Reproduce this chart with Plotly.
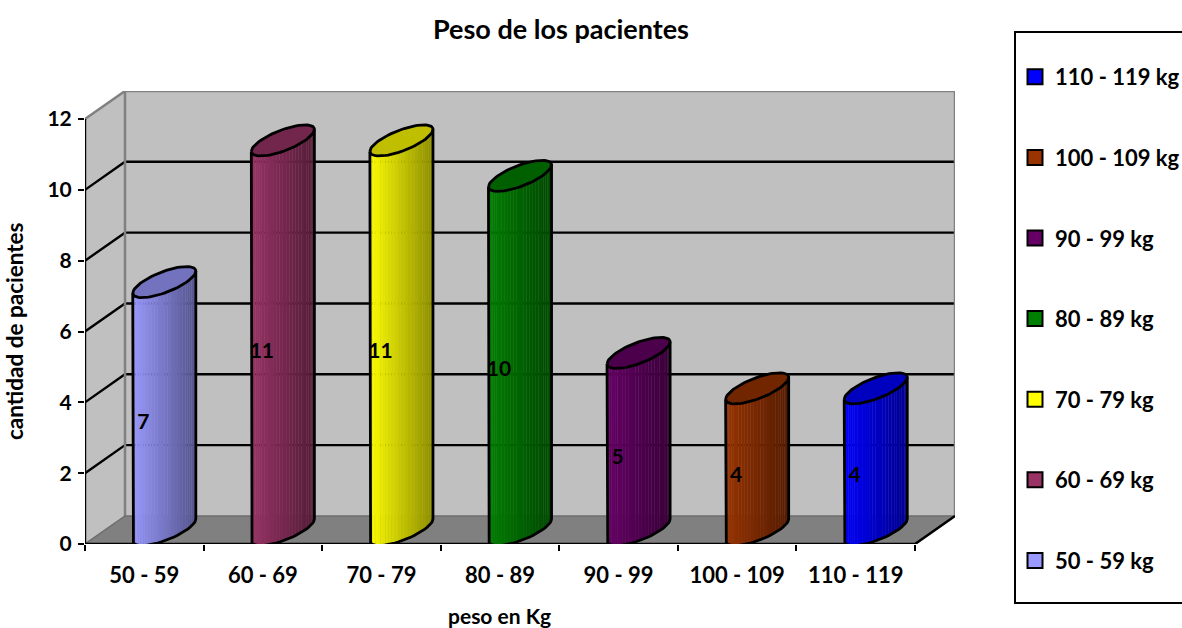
import math
import plotly.graph_objects as go

# ---- data ----
categories = ["50 - 59", "60 - 69", "70 - 79", "80 - 89", "90 - 99", "100 - 109", "110 - 119"]
series_names = ["50 - 59 kg", "60 - 69 kg", "70 - 79 kg", "80 - 89 kg", "90 - 99 kg", "100 - 109 kg", "110 - 119 kg"]
values = [7, 11, 11, 10, 5, 4, 4]
colors = ["#9999FF", "#993366", "#FFFF00", "#008000", "#660066", "#993300", "#0000FF"]
y_ticks = [0, 2, 4, 6, 8, 10, 12]
grid_levels = [2, 4, 6, 8, 10]

FONT = "Lato"
# ---- projection, in axis units ----
PX_X = 830 / 7          # pixels per category
PX_Y = 424 / 12         # pixels per unit of value
DX = 40 / PX_X          # oblique depth of the box
DY = 28 / PX_Y
XMIN, XMAX = -0.5, 6.5
TOP = 12
A = 22.3 / PX_X         # ellipse axes of the cylinder section
B = 22.3 / PX_X
C = 15.5 / PX_Y
N_STRIPS = 30
LABEL_SHIFT_X = 1 / PX_X
LABEL_SHIFT_Y = 3.5 / PX_Y

fig = go.Figure()


def poly(xs, ys, fill=None, line=None, width=0):
    fig.add_trace(go.Scatter(
        x=xs, y=ys, mode="lines", hoverinfo="skip", showlegend=False,
        fill="toself" if fill else "none", fillcolor=fill,
        line=dict(color=line or "rgba(0,0,0,0)", width=width),
        cliponaxis=False,
    ))


# walls and floor
poly([XMIN, XMIN + DX, XMIN + DX, XMIN], [0, DY, TOP + DY, TOP], fill="#C0C0C0")
poly([XMIN + DX, XMAX + DX, XMAX + DX, XMIN + DX], [DY, DY, TOP + DY, TOP + DY], fill="#C0C0C0")
poly([XMIN, XMAX, XMAX + DX, XMIN + DX], [0, 0, DY, DY], fill="#808080")
for lv in grid_levels:
    poly([XMIN, XMIN + DX, XMAX + DX], [lv, lv + DY, lv + DY], line="#000000", width=2.4)
# wall borders
poly([XMIN, XMIN + DX, XMAX + DX, XMAX + DX], [TOP, TOP + DY, TOP + DY, DY], line="#808080", width=2.5)
poly([XMIN + DX, XMIN + DX], [DY, TOP + DY], line="#808080", width=2.5)
poly([XMIN, XMIN + DX, XMAX + DX], [0, DY, DY], line="#6E6E6E", width=1.5)
# axis lines
poly([XMIN, XMIN], [0, TOP], line="#000000", width=2.4)
poly([XMIN, XMAX, XMAX + DX], [0, 0, DY], line="#000000", width=2.6)


def shade(col, f, alpha=1.0):
    r, g, b = int(col[1:3], 16), int(col[3:5], 16), int(col[5:7], 16)
    return f"rgba({int(r * f)},{int(g * f)},{int(b * f)},{alpha})"


def ell(cx, cy, t):
    return cx + A * math.cos(t) + B * math.sin(t), cy + C * math.sin(t)


T0 = math.radians(225)
T1 = math.radians(405)

for i, (v, col) in enumerate(zip(values, colors)):
    cx = i + DX / 2
    cy0 = DY / 2
    cy1 = v + DY / 2
    ts = [T0 + (T1 - T0) * k / N_STRIPS for k in range(N_STRIPS + 1)]
    xl = ell(cx, cy0, T0)[0]
    xr = ell(cx, cy0, T1)[0]
    base = [ell(cx, cy0, t) for t in ts]
    upper = [ell(cx, cy1, t) for t in ts]
    # faint backing, so that the seams between strips stay subtle
    poly([p[0] for p in base] + [p[0] for p in reversed(upper)],
         [p[1] for p in base] + [p[1] for p in reversed(upper)],
         fill=shade(col, 0.8, 0.55))
    # shaded side, as narrow strips
    for k in range(N_STRIPS):
        xa, ya = base[k]
        xb, yb = base[k + 1]
        ya1 = upper[k][1]
        yb1 = upper[k + 1][1]
        frac = ((xa + xb) / 2 - xl) / (xr - xl)
        poly([xa, xb, xb, xa, xa], [ya, yb, yb1, ya1, ya], fill=shade(col, 1 - 0.45 * frac))
    # top cap
    caps = [T0 + 2 * math.pi * k / 72 for k in range(73)]
    pts = [ell(cx, cy1, t) for t in caps]
    poly([p[0] for p in pts], [p[1] for p in pts], fill=shade(col, 0.75), line="#000000", width=2.8)
    # outline
    xs = [xl] + [p[0] for p in base] + [xr]
    ys = [upper[0][1]] + [p[1] for p in base] + [upper[-1][1]]
    poly(xs, ys, line="#000000", width=2.8)

# data labels
fig.add_trace(go.Scatter(
    x=[k - LABEL_SHIFT_X for k in range(len(values))], y=[v / 2 - LABEL_SHIFT_Y for v in values],
    text=[str(v) for v in values], mode="text", hoverinfo="skip", showlegend=False,
    textfont=dict(family=FONT, size=21, color="#000000", weight=700),
))

# legend entries, top one first
for name, col in reversed(list(zip(series_names, colors))):
    fig.add_trace(go.Scatter(
        x=[None], y=[None], mode="markers", name=name, legendgroup=name,
        marker=dict(symbol="square", size=15, color=col, line=dict(color="#000000", width=2)),
    ))

fig.update_layout(
    width=1182, height=628,
    margin=dict(l=85, r=227, t=91, b=84, autoexpand=False),
    paper_bgcolor="#FFFFFF", plot_bgcolor="#FFFFFF",
    font=dict(family=FONT, color="#000000"),
    xaxis=dict(
        range=[XMIN, XMAX + DX], showgrid=False, zeroline=False, showline=False,
        tickmode="array", tickvals=list(range(len(categories))), ticktext=categories,
        ticks="", ticklabelstandoff=16,
        tickfont=dict(family=FONT, size=22, color="#000000", weight=700),
        minor=dict(tickmode="array", tickvals=[k - 0.5 for k in range(len(categories) + 1)],
                   ticks="outside", ticklen=6, tickwidth=2, tickcolor="#000000", showgrid=False),
    ),
    yaxis=dict(
        range=[0, TOP + DY], showgrid=False, zeroline=False, showline=False,
        tickmode="array", tickvals=y_ticks, ticks="outside", ticklen=6, tickwidth=2,
        tickcolor="#000000", ticklabelstandoff=2,
        tickfont=dict(family=FONT, size=21, color="#000000", weight=700),
    ),
    title=dict(text="Peso de los pacientes", x=561 / 1182, xanchor="center",
               y=1 - 30 / 628, yanchor="middle",
               font=dict(family=FONT, size=27, color="#000000", weight=700)),
    showlegend=True,
    legend=dict(
        x=(1015 - 85) / 870, xanchor="left", y=(544 - 56) / 453, yanchor="top",
        bgcolor="rgba(0,0,0,0)", borderwidth=0, tracegroupgap=49, maxheight=575,
        font=dict(family=FONT, size=22, color="#000000", weight=700),
        traceorder="grouped", itemclick=False, itemdoubleclick=False,
    ),
    shapes=[dict(type="rect", xref="paper", yref="paper",
                 x0=(1015 - 85) / 870, x1=(1200 - 85) / 870,
                 y0=(544 - 603) / 453, y1=(544 - 32) / 453,
                 line=dict(color="#000000", width=2), fillcolor="rgba(0,0,0,0)")],
    annotations=[
        dict(text="peso en Kg", xref="paper", yref="paper", x=(499 - 85) / 870, y=(544 - 615) / 453,
             xanchor="center", yanchor="middle", showarrow=False,
             font=dict(family=FONT, size=21, color="#000000", weight=700)),
        dict(text="cantidad de pacientes", xref="paper", yref="paper", x=(14 - 85) / 870, y=(544 - 331) / 453,
             xanchor="center", yanchor="middle", textangle=-90, showarrow=False,
             font=dict(family=FONT, size=22.5, color="#000000", weight=700)),
    ],
)

fig.write_html("out.html", config={"displayModeBar": False},
               post_script="document.body.style.margin='0';document.body.style.overflow='hidden';")
